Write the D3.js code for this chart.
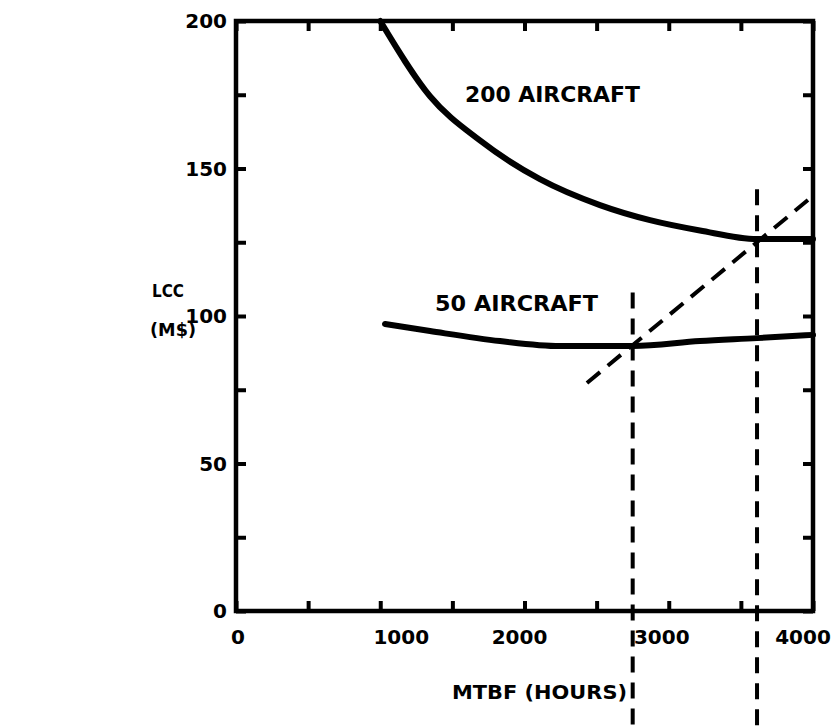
<!DOCTYPE html>
<html><head><meta charset="utf-8">
<script src="https://cdn.jsdelivr.net/npm/d3@7"></script>
<style>
body{margin:0;background:#fff;}
svg text{font-family:"DejaVu Sans",sans-serif;font-weight:bold;fill:#000;}
</style></head>
<body><svg id="c" width="839" height="727"></svg>
<script>
// ---- data ----
const xTickValues = [0,500,1000,1500,2000,2500,3000,3500,4000];
const xTickLabels = [0,1000,2000,3000,4000];
const yTickValues = [0,25,50,75,100,125,150,175,200];
const yTickLabels = [0,50,100,150,200];

const mtbf200 = [1000,1345,1691,2107,2523,2870,3216,3612,4000];
const lcc200  = [200,174.5,159.5,146.4,137.6,132.5,129.0,126.1,126.1];

const mtbf50 = [1033,1345,1830,2246,2752,3216,3612,4000];
const lcc50  = [97.3,94.9,91.5,89.8,89.8,91.5,92.5,93.6];

const optMtbf = [2433,3965];   // dashed optimum line
const optLcc  = [77.3,139.3];

const vMtbf = [2750,3612];      // vertical dashed drop lines
const vTop  = [108,143];
const vBottom = -40;

const curveLabels = ["200 AIRCRAFT","50 AIRCRAFT"];
const curveLabelX = [1587,1380];
const curveLabelY = [172.5,101.7];

// ---- layout ----
const svg = d3.select("#c");
const L=236, R=813, T=21, B=611;
const x = d3.scaleLinear().domain([0,4000]).range([L,R]);
const y = d3.scaleLinear().domain([0,200]).range([B,T]);

// frame
svg.append("rect").attr("x",L).attr("y",T).attr("width",R-L).attr("height",B-T)
  .attr("fill","none").attr("stroke","#000").attr("stroke-width",4.5);

function styleAxis(g){
  g.select(".domain").remove();
  g.selectAll(".tick line").attr("stroke","#000").attr("stroke-width",4);
}
const tk = 10;
svg.append("g").attr("transform",`translate(0,${B})`)
  .call(d3.axisBottom(x).tickValues(xTickValues).tickSize(-tk).tickFormat("")).call(styleAxis);
svg.append("g").attr("transform",`translate(0,${T})`)
  .call(d3.axisTop(x).tickValues(xTickValues).tickSize(-tk).tickFormat("")).call(styleAxis);
svg.append("g").attr("transform",`translate(${L},0)`)
  .call(d3.axisLeft(y).tickValues(yTickValues).tickSize(-tk).tickFormat("")).call(styleAxis);
svg.append("g").attr("transform",`translate(${R},0)`)
  .call(d3.axisRight(y).tickValues(yTickValues).tickSize(-tk).tickFormat("")).call(styleAxis);

// tick labels
const xNudge = [2,21,-5,-7,-10];
svg.append("g").selectAll("text").data(xTickLabels).join("text")
  .attr("x",(d,i)=>x(d)+xNudge[i]).attr("y",B+33)
  .attr("text-anchor","middle").attr("font-size",20).text(d=>d);
svg.append("g").selectAll("text").data(yTickLabels).join("text")
  .attr("x",L-9).attr("y",d=>y(d)+7)
  .attr("text-anchor","end").attr("font-size",20).text(d=>d);

// axis titles
svg.append("text").attr("x",152).attr("y",297).attr("font-size",17)
  .attr("textLength",32).attr("lengthAdjust","spacingAndGlyphs").text("LCC");
svg.append("text").attr("x",150).attr("y",336).attr("font-size",17)
  .attr("textLength",46).attr("lengthAdjust","spacingAndGlyphs").text("(M$)");
svg.append("text").attr("x",452).attr("y",699).attr("font-size",19)
  .attr("textLength",175).attr("lengthAdjust","spacingAndGlyphs").text("MTBF (HOURS)");

// curves
const line = d3.line().x(d=>x(d[0])).y(d=>y(d[1])).curve(d3.curveMonotoneX);
svg.append("path").datum(mtbf200.map((m,i)=>[m,lcc200[i]]))
  .attr("d",line).attr("fill","none").attr("stroke","#000").attr("stroke-width",6).attr("stroke-linecap","round");
svg.append("path").datum(mtbf50.map((m,i)=>[m,lcc50[i]]))
  .attr("d",line).attr("fill","none").attr("stroke","#000").attr("stroke-width",6).attr("stroke-linecap","round");

// dashed lines
svg.append("line").attr("x1",x(optMtbf[0])).attr("y1",y(optLcc[0]))
  .attr("x2",x(optMtbf[1])).attr("y2",y(optLcc[1]))
  .attr("stroke","#000").attr("stroke-width",4).attr("stroke-dasharray","17,10");
svg.append("g").selectAll("line").data(vMtbf).join("line")
  .attr("x1",d=>x(d)).attr("x2",d=>x(d))
  .attr("y1",(d,i)=>y(vTop[i])).attr("y2",y(vBottom))
  .attr("stroke","#000").attr("stroke-width",4).attr("stroke-dasharray","16,10");

// curve labels
const labelLen = [175,163];
svg.append("g").selectAll("text").data(curveLabels).join("text")
  .attr("x",(d,i)=>x(curveLabelX[i])).attr("y",(d,i)=>y(curveLabelY[i]))
  .attr("font-size",21).attr("textLength",(d,i)=>labelLen[i]).attr("lengthAdjust","spacingAndGlyphs").text(d=>d);
</script></body></html>
